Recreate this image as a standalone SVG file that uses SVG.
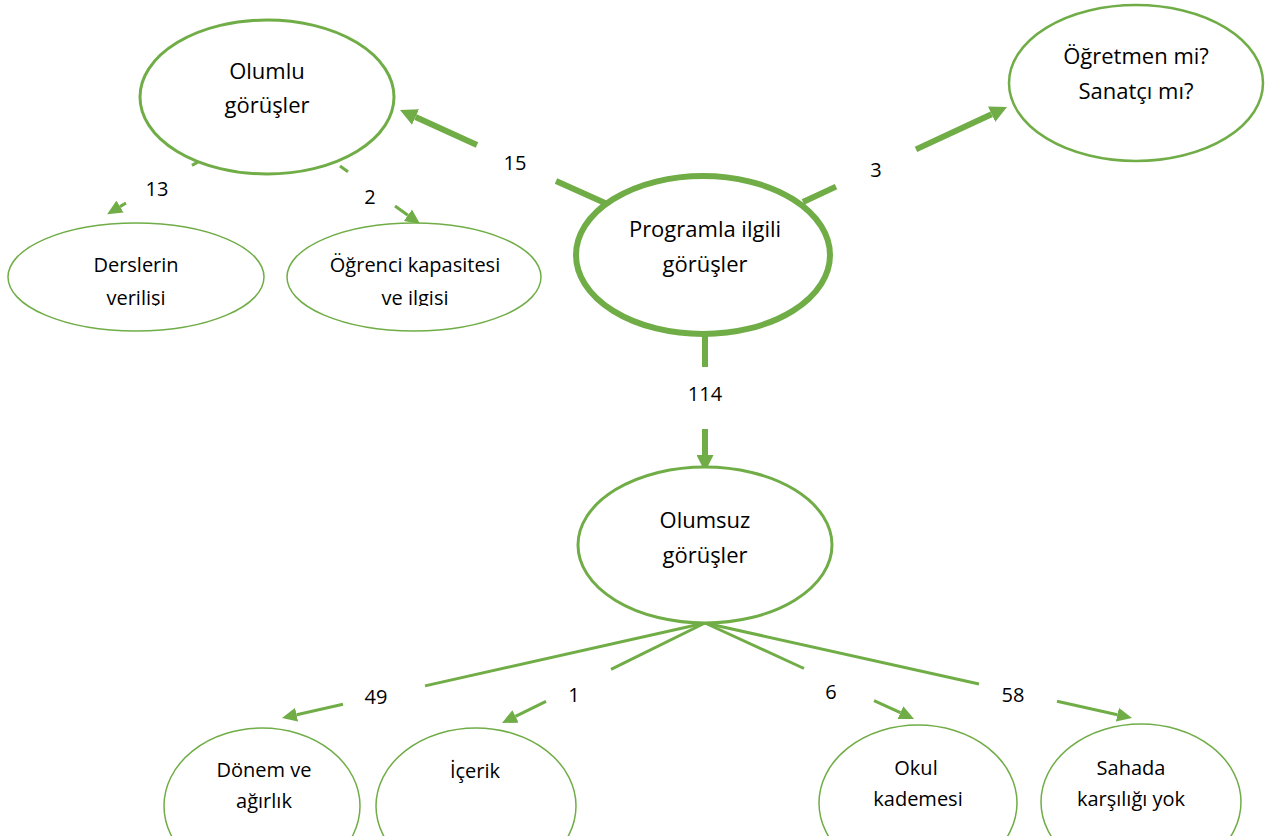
<svg xmlns="http://www.w3.org/2000/svg" width="1270" height="836" viewBox="0 0 1270 836">
  <style>
    .node { fill: #ffffff; stroke: #70AD47; }
    .t { font-family: "Open Sans", "Liberation Sans", sans-serif; fill: #000000; text-anchor: middle; }
    .big { font-size: 22px; }
    .small { font-size: 20px; }
    .num { font-size: 20px; }
    .thin { fill: none; stroke: #70AD47; stroke-width: 3; marker-end: url(#arrowThin); }
    .thick { fill: none; stroke: #70AD47; stroke-width: 6; marker-end: url(#arrowThick); }
  </style>
  <defs>
    <marker id="arrowThin" markerUnits="userSpaceOnUse" markerWidth="15" markerHeight="14" viewBox="0 0 15 14" refX="0" refY="7" orient="auto">
      <path d="M0,0 L15,7 L0,14 Z" fill="#70AD47"/>
    </marker>
    <marker id="arrowThick" markerUnits="userSpaceOnUse" markerWidth="17" markerHeight="17" viewBox="0 0 17 17" refX="0" refY="8.5" orient="auto">
      <path d="M0,0 L17,8.5 L0,17 Z" fill="#70AD47"/>
    </marker>
    <clipPath id="clipTop">
      <rect x="0" y="0" width="1270" height="306"/>
    </clipPath>
  </defs>
  <rect x="0" y="0" width="1270" height="836" fill="#ffffff"/>

  <g id="connectors">
    <path class="thick" d="M605,203 L556,181 M477,145 L415.5,117"/>
    <path class="thick" d="M803,202 L836,186.6 M916,149.4 L991.6,114.2"/>
    <path class="thick" d="M705,333 L705,367 M705,429 L705,455"/>
    <path class="thin" d="M198,162 L192,165.4 M126,203 L120,206.6"/>
    <path class="thin" d="M340,166 L348,171.8 M395,206 L407.9,215.2"/>
    <path class="thin" d="M705,623 L425,685.9 M343,704.3 L296.6,714.7"/>
    <path class="thin" d="M705,623 L611,669.3 M546,701.3 L515.5,716.4"/>
    <path class="thin" d="M705,623 L804,668.5 M874,700.6 L900.4,712.7"/>
    <path class="thin" d="M705,623 L979,684 M1057,701.3 L1117.4,714.7"/>
    <text class="t num" x="515" y="170">15</text>
    <text class="t num" x="876" y="177">3</text>
    <text class="t num" x="705" y="401">114</text>
    <text class="t num" x="157" y="196">13</text>
    <text class="t num" x="370" y="204">2</text>
    <text class="t num" x="376" y="704">49</text>
    <text class="t num" x="574" y="702">1</text>
    <text class="t num" x="831" y="699">6</text>
    <text class="t num" x="1013" y="702">58</text>
  </g>

  <g id="node-programla">
    <ellipse class="node" cx="703" cy="255" rx="127" ry="79" stroke-width="6"/>
    <text class="t big" x="705" y="237">Programla ilgili</text>
    <text class="t big" x="705" y="272">görüşler</text>
  </g>

  <g id="node-olumlu">
    <ellipse class="node" cx="267" cy="97" rx="127" ry="77" stroke-width="3"/>
    <text class="t big" x="267" y="79">Olumlu</text>
    <text class="t big" x="267" y="113">görüşler</text>
  </g>

  <g id="node-ogretmen">
    <ellipse class="node" cx="1136" cy="83" rx="127" ry="78" stroke-width="2.5"/>
    <text class="t big" x="1136" y="64">Öğretmen mi?</text>
    <text class="t big" x="1136" y="99">Sanatçı mı?</text>
  </g>

  <g id="node-olumsuz">
    <ellipse class="node" cx="705" cy="545" rx="127" ry="78" stroke-width="3"/>
    <text class="t big" x="705" y="528">Olumsuz</text>
    <text class="t big" x="705" y="563">görüşler</text>
  </g>

  <g id="node-derslerin">
    <ellipse class="node" cx="136" cy="277" rx="128" ry="54" stroke-width="1.5"/>
    <g clip-path="url(#clipTop)">
      <text class="t small" x="136" y="272">Derslerin</text>
      <text class="t small" x="136" y="305">verilişi</text>
    </g>
  </g>

  <g id="node-ogrenci">
    <ellipse class="node" cx="414" cy="277" rx="127" ry="54" stroke-width="1.5"/>
    <g clip-path="url(#clipTop)">
      <text class="t small" x="415" y="272">Öğrenci kapasitesi</text>
      <text class="t small" x="415" y="305">ve ilgisi</text>
    </g>
  </g>

  <g id="node-donem">
    <ellipse class="node" cx="262" cy="806" rx="98" ry="78" stroke-width="1.5"/>
    <text class="t small" x="264" y="777">Dönem ve</text>
    <text class="t small" x="264" y="808">ağırlık</text>
  </g>

  <g id="node-icerik">
    <ellipse class="node" cx="476" cy="806" rx="100" ry="78" stroke-width="1.5"/>
    <text class="t small" x="475" y="778">İçerik</text>
  </g>

  <g id="node-okul">
    <ellipse class="node" cx="918" cy="803" rx="99" ry="78" stroke-width="1.5"/>
    <text class="t small" x="916" y="775">Okul</text>
    <text class="t small" x="918" y="806">kademesi</text>
  </g>

  <g id="node-sahada">
    <ellipse class="node" cx="1141" cy="802" rx="100" ry="78" stroke-width="1.5"/>
    <text class="t small" x="1131" y="775">Sahada</text>
    <text class="t small" x="1131" y="806">karşılığı yok</text>
  </g>
</svg>
